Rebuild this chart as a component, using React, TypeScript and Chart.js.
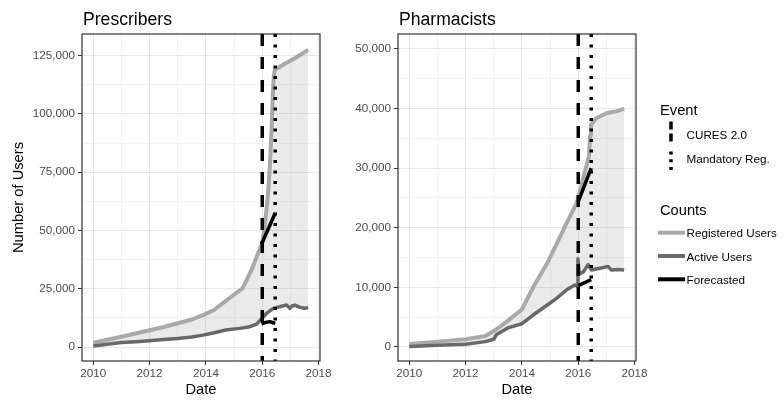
import React, { useEffect, useRef } from 'react';
import Chart from 'chart.js/auto';

// ---------------- DATA ----------------
const eventNames = ['CURES 2.0', 'Mandatory Reg.'];
const eventDates = [2016.0, 2016.46];
const countNames = ['Registered Users', 'Active Users', 'Forecasted'];

const xTickValues = [2010, 2011, 2012, 2013, 2014, 2015, 2016, 2017, 2018];
const xTickLabels = ['2010', '', '2012', '', '2014', '', '2016', '', '2018'];

// Prescribers
const presRegDates = [2010.0, 2010.5, 2011.0, 2011.5, 2012.0, 2012.5, 2013.0, 2013.5, 2013.9, 2014.3, 2014.6, 2015.0, 2015.3, 2015.45, 2015.67, 2015.85, 2016.0, 2016.09, 2016.16, 2016.22, 2016.28, 2016.33, 2016.37, 2016.41, 2016.45, 2016.8, 2017.2, 2017.63];
const presReg = [1800, 3100, 4400, 5800, 7200, 8600, 10200, 11800, 13700, 16000, 18800, 22500, 25200, 28800, 34500, 40200, 44500, 52500, 60000, 68000, 80000, 93000, 107000, 116500, 119000, 121500, 124200, 127500];
const presActDates = [2010.0, 2010.5, 2011.0, 2011.5, 2012.0, 2012.5, 2013.0, 2013.5, 2013.9, 2014.3, 2014.7, 2015.2, 2015.56, 2015.8, 2015.97, 2016.15, 2016.39, 2016.62, 2016.86, 2016.98, 2017.06, 2017.16, 2017.34, 2017.51, 2017.63];
const presAct = [400, 1200, 1900, 2300, 2700, 3200, 3700, 4300, 5100, 6100, 7300, 8000, 8700, 9800, 12000, 14400, 16600, 17300, 18000, 16600, 17600, 18000, 17000, 16600, 17000];
const presFcRegDates = [2015.97, 2016.46];
const presFcReg = [44000, 57500];
const presFcActDates = [2015.97, 2016.1, 2016.27, 2016.46];
const presFcAct = [10000, 10500, 10900, 10100];
const presYTicks = [0, 12500, 25000, 37500, 50000, 62500, 75000, 87500, 100000, 112500, 125000];
const presYLabels = ['0', '', '25,000', '', '50,000', '', '75,000', '', '100,000', '', '125,000'];

// Pharmacists
const pharmRegDates = [2010.0, 2011.0, 2012.0, 2012.7, 2013.06, 2013.53, 2014.0, 2014.41, 2014.89, 2015.24, 2015.59, 2015.94, 2016.1, 2016.2, 2016.3, 2016.38, 2016.42, 2016.45, 2016.65, 2017.0, 2017.41, 2017.63];
const pharmReg = [500, 900, 1300, 1850, 2850, 4500, 6300, 10100, 14000, 17400, 20800, 24100, 26800, 28800, 30500, 32000, 35500, 37300, 38400, 39200, 39600, 40000];
const pharmActDates = [2010.0, 2011.0, 2012.0, 2012.7, 2013.0, 2013.1, 2013.5, 2014.0, 2014.41, 2014.89, 2015.24, 2015.59, 2015.88, 2015.97, 2015.99, 2016.03, 2016.18, 2016.35, 2016.47, 2016.77, 2017.06, 2017.18, 2017.41, 2017.63];
const pharmAct = [100, 300, 450, 900, 1300, 2100, 3200, 3900, 5400, 7000, 8200, 9600, 10400, 10200, 14800, 12200, 12600, 13800, 12900, 13200, 13500, 12900, 13000, 12900];
const pharmFcRegDates = [2016.0, 2016.46];
const pharmFcReg = [24400, 30000];
const pharmFcActDates = [2016.0, 2016.46];
const pharmFcAct = [10300, 11300];
const pharmYTicks = [0, 5000, 10000, 15000, 20000, 25000, 30000, 35000, 40000, 45000, 50000];
const pharmYLabels = ['0', '', '10,000', '', '20,000', '', '30,000', '', '40,000', '', '50,000'];

// ---------------- STYLE ----------------
const FONT = '"Liberation Sans", Arial, Helvetica, sans-serif';
const REG_COLOR = '#A9A9A9';
const ACT_COLOR = '#686868';
const FC_COLOR = '#000000';
const RIBBON = 'rgba(170,170,170,0.25)';
const DASH = [12, 11];
const DOT = [3, 7.5];

const pts = (xs: number[], ys: number[]) => xs.map((x, i) => ({ x, y: ys[i] }));

const panelPlugin = (title: string) => ({
  id: 'panelDecor',
  afterDatasetsDraw(chart: any) {
    const { ctx, chartArea: a } = chart;
    ctx.save();
    ctx.strokeStyle = '#333333';
    ctx.lineWidth = 1.2;
    ctx.strokeRect(a.left, a.top, a.right - a.left, a.bottom - a.top);
    ctx.restore();
  },
  afterDraw(chart: any) {
    const { ctx, chartArea: a } = chart;
    ctx.save();
    ctx.font = `17.6px ${FONT}`;
    ctx.fillStyle = '#000';
    ctx.textAlign = 'left';
    ctx.textBaseline = 'alphabetic';
    ctx.fillText(title, a.left + 1, 25);
    ctx.restore();
  },
});

interface PanelProps {
  title: string;
  regX: number[]; reg: number[];
  actX: number[]; act: number[];
  fcRegX: number[]; fcReg: number[];
  fcActX: number[]; fcAct: number[];
  yMin: number; yMax: number;
  yTicks: number[]; yLabels: string[];
  yWidth: number; padRight: number;
  yTitle?: string;
  width: number; left: number;
}

function Panel(p: PanelProps) {
  const ref = useRef<HTMLCanvasElement>(null);
  useEffect(() => {
    if (!ref.current) return;
    const line = (extra: any) => ({
      pointRadius: 0,
      borderCapStyle: 'butt',
      borderJoinStyle: 'round',
      tension: 0,
      fill: false,
      ...extra,
    });
    const datasets: any[] = [
      line({ label: eventNames[0], data: [{ x: eventDates[0], y: p.yMax }, { x: eventDates[0], y: p.yMin }], borderColor: '#000', borderWidth: 3.5, borderDash: DASH, order: 0 }),
      line({ label: eventNames[1], data: [{ x: eventDates[1], y: p.yMax }, { x: eventDates[1], y: p.yMin }], borderColor: '#000', borderWidth: 3.5, borderDash: DOT, order: 0 }),
      line({ label: countNames[2], data: pts(p.fcRegX, p.fcReg), borderColor: FC_COLOR, borderWidth: 3.5, order: 1 }),
      line({ label: countNames[2], data: pts(p.fcActX, p.fcAct), borderColor: FC_COLOR, borderWidth: 3.5, order: 1 }),
      line({ label: countNames[1], data: pts(p.actX, p.act), borderColor: ACT_COLOR, borderWidth: 3.5, order: 2 }),
      line({ label: countNames[0], data: pts(p.regX, p.reg), borderColor: REG_COLOR, borderWidth: 4, order: 3, fill: 4, backgroundColor: RIBBON }),
    ];
    const xMajor = (i: number) => xTickLabels[i] !== '';
    const yMajor = (i: number) => p.yLabels[i] !== '';
    const chart = new Chart(ref.current, {
      type: 'line',
      data: { datasets },
      options: {
        animation: false,
        responsive: false,
        devicePixelRatio: 1,
        layout: { padding: { top: 34, right: p.padRight, bottom: 0, left: 0 } },
        plugins: {
          legend: { display: false },
          tooltip: { enabled: false },
          title: { display: false },
          filler: { propagate: false, drawTime: 'beforeDatasetsDraw' },
        },
        scales: {
          x: {
            type: 'linear',
            min: 2009.6,
            max: 2018.05,
            afterBuildTicks: (s: any) => { s.ticks = xTickValues.map((v) => ({ value: v })); },
            afterFit: (s: any) => { s.height = 42; },
            border: { display: false },
            grid: {
              color: (c: any) => (xMajor(c.index) ? '#E6E6E6' : '#F2F2F2'),
              lineWidth: 1,
              tickLength: 4,
              tickColor: (c: any) => (xMajor(c.index) ? '#333333' : 'rgba(0,0,0,0)'),
            },
            ticks: {
              autoSkip: false,
              maxRotation: 0,
              padding: 2,
              color: '#4D4D4D',
              font: { family: FONT, size: 11.7 },
              callback: (_v: any, i: number) => xTickLabels[i],
            },
            title: { display: true, text: 'Date', color: '#000', font: { family: FONT, size: 14.7 }, padding: { top: 0, bottom: 4 } },
          },
          y: {
            type: 'linear',
            min: p.yMin,
            max: p.yMax,
            afterBuildTicks: (s: any) => { s.ticks = p.yTicks.map((v) => ({ value: v })); },
            afterFit: (s: any) => { s.width = p.yWidth; },
            border: { display: false },
            grid: {
              color: (c: any) => (yMajor(c.index) ? '#E6E6E6' : '#F2F2F2'),
              lineWidth: 1,
              tickLength: 4,
              tickColor: (c: any) => (yMajor(c.index) ? '#333333' : 'rgba(0,0,0,0)'),
            },
            ticks: {
              autoSkip: false,
              padding: 3,
              color: '#4D4D4D',
              font: { family: FONT, size: 11.7 },
              callback: (_v: any, i: number) => p.yLabels[i],
            },
            title: p.yTitle
              ? { display: true, text: p.yTitle, color: '#000', font: { family: FONT, size: 14.7 }, padding: { top: 10, bottom: 0 } }
              : { display: false },
          },
        },
      } as any,
      plugins: [panelPlugin(p.title)],
    } as any);
    return () => chart.destroy();
  }, []);
  return (
    <canvas
      ref={ref}
      width={p.width}
      height={403}
      style={{ position: 'absolute', left: p.left, top: 0, width: p.width, height: 403 }}
    />
  );
}

function Legend() {
  const t = { fontFamily: FONT, fill: '#000' } as any;
  const keyY = [232.7, 256, 279.3];
  const keyC = [REG_COLOR, ACT_COLOR, FC_COLOR];
  return (
    <svg width={783} height={403} style={{ position: 'absolute', left: 0, top: 0, pointerEvents: 'none' }}>
      <text x={660} y={110} fontSize={14.7} dominantBaseline="central" style={t}>Event</text>
      <line x1={671} y1={121.5} x2={671} y2={142} stroke="#000" strokeWidth={3.5} strokeDasharray="8 4" />
      <text x={686.5} y={134.5} fontSize={11.7} dominantBaseline="central" style={t}>{eventNames[0]}</text>
      <line x1={671} y1={151.5} x2={671} y2={170} stroke="#000" strokeWidth={3.5} strokeDasharray="3 4.7" />
      <text x={686.5} y={158} fontSize={11.7} dominantBaseline="central" style={t}>{eventNames[1]}</text>
      <text x={660} y={210} fontSize={14.7} dominantBaseline="central" style={t}>Counts</text>
      {countNames.map((n, i) => (
        <g key={n}>
          <line x1={658} y1={keyY[i]} x2={685} y2={keyY[i]} stroke={keyC[i]} strokeWidth={4} />
          <text x={686.5} y={keyY[i]} fontSize={11.7} dominantBaseline="central" style={t}>{n}</text>
        </g>
      ))}
    </svg>
  );
}

export default function App() {
  return (
    <div style={{ position: 'fixed', left: 0, top: 0, width: 783, height: 403, background: '#fff', overflow: 'hidden' }}>
      <Panel
        title="Prescribers"
        regX={presRegDates} reg={presReg}
        actX={presActDates} act={presAct}
        fcRegX={presFcRegDates} fcReg={presFcReg}
        fcActX={presFcActDates} fcAct={presFcAct}
        yMin={-6000} yMax={134300}
        yTicks={presYTicks} yLabels={presYLabels}
        yWidth={82} padRight={15}
        yTitle="Number of Users"
        width={335} left={0}
      />
      <Panel
        title="Pharmacists"
        regX={pharmRegDates} reg={pharmReg}
        actX={pharmActDates} act={pharmAct}
        fcRegX={pharmFcRegDates} fcReg={pharmFcReg}
        fcActX={pharmFcActDates} fcAct={pharmFcAct}
        yMin={-2350} yMax={52500}
        yTicks={pharmYTicks} yLabels={pharmYLabels}
        yWidth={63} padRight={14}
        width={315} left={335}
      />
      <Legend />
    </div>
  );
}
